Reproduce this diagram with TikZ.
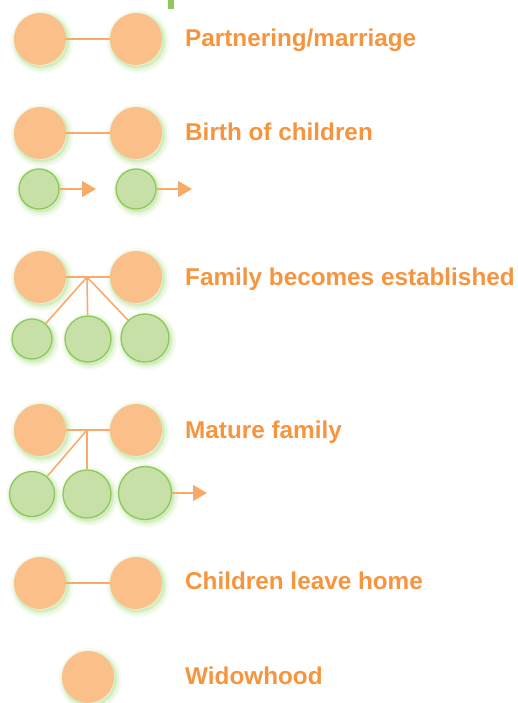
\documentclass[tikz,border=0pt]{standalone}
\usepackage{fontspec}
\setmainfont{Liberation Sans}
\usetikzlibrary{arrows.meta}
\definecolor{parentfill}{HTML}{FBC08A}
\definecolor{childfill}{HTML}{C7E0A7}
\definecolor{childedge}{HTML}{8CC85A}
\definecolor{stagetext}{HTML}{F7943E}
\definecolor{linkline}{HTML}{F9AA68}
\definecolor{glowgreen}{HTML}{A8DC80}
\tikzset{
  halo/.style={
    preaction={draw=glowgreen, line width=11pt, draw opacity=0.10, transform canvas={shift={(2,2.5)}}},
    preaction={draw=glowgreen, line width=7pt, draw opacity=0.16, transform canvas={shift={(2,2.5)}}},
    preaction={draw=glowgreen, line width=3pt, draw opacity=0.35, transform canvas={shift={(1.5,2)}}}},
  parent/.style={circle, fill=parentfill, minimum size=52pt, inner sep=0pt, halo},
  child/.style={circle, fill=childfill, draw=childedge, line width=1.3pt, minimum size=#1, inner sep=0pt, halo},
  link/.style={draw=linkline, line width=1.6pt},
  growth/.style={link, -{Triangle[length=14pt,width=16pt,fill=linkline]}},
  stage/.style={anchor=base west, text=stagetext, font=\bfseries\fontsize{24.3pt}{28pt}\selectfont, inner sep=0pt}
}
\begin{document}
\begin{tikzpicture}[x=1pt,y=-1pt]
\useasboundingbox (0,0) rectangle (518,703);
\fill[childedge] (168,0) rectangle (173.5,9);

% Partnering/marriage
\node[parent] (a1) at (40,39) {};
\node[parent] (a2) at (136,39) {};
\draw[link] (a1) -- (a2);
\node[stage] (ta) at (185,47) {Partnering/marriage};

% Birth of children
\node[parent] (b1) at (40,133) {};
\node[parent] (b2) at (136,133) {};
\draw[link] (b1) -- (b2);
\node[stage] (tb) at (185,141) {Birth of children};
\node[child=40pt] (bc1) at (39,189) {};
\node[child=40pt] (bc2) at (136,189) {};
\coordinate (bt1) at (96,189);
\coordinate (bt2) at (192,189);
\draw[growth] (bc1) -- (bt1);
\draw[growth] (bc2) -- (bt2);

% Family becomes established
\node[parent] (c1) at (40,277) {};
\node[parent] (c2) at (136,277) {};
\coordinate (cj) at (87,277);
\node[child=40pt] (cc1) at (32,339) {};
\node[child=46pt] (cc2) at (88,339) {};
\node[child=48pt] (cc3) at (145,338) {};
\draw[link] (c1) -- (c2);
\draw[link] (cj) -- (cc1);
\draw[link] (cj) -- (cc2);
\draw[link] (cj) -- (cc3);
\node[stage] (tc) at (185,285) {Family becomes established};

% Mature family
\node[parent] (d1) at (40,430) {};
\node[parent] (d2) at (136,430) {};
\coordinate (dj) at (87,430);
\node[child=45pt] (dc1) at (32,494) {};
\node[child=48pt] (dc2) at (87,494) {};
\node[child=53pt] (dc3) at (145,493) {};
\coordinate (dt) at (207,493);
\draw[link] (d1) -- (d2);
\draw[link] (dj) -- (dc1);
\draw[link] (dj) -- (dc2);
\draw[growth] (dc3) -- (dt);
\node[stage] (td) at (185,438) {Mature family};

% Children leave home
\node[parent] (e1) at (40,583) {};
\node[parent] (e2) at (136,583) {};
\draw[link] (e1) -- (e2);
\node[stage] (te) at (185,589) {Children leave home};

% Widowhood
\node[parent] (f1) at (88,677) {};
\node[stage] (tf) at (185,684) {Widowhood};
\end{tikzpicture}
\end{document}
